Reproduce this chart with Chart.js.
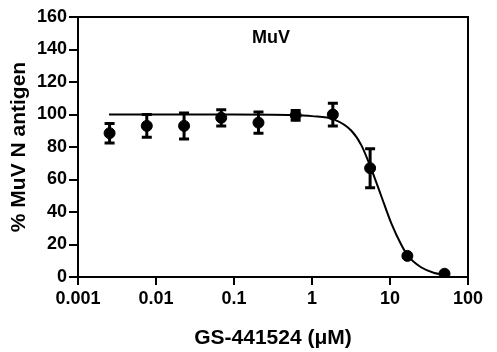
<!DOCTYPE html>
<html>
<head>
<meta charset="utf-8">
<script src="https://cdn.jsdelivr.net/npm/chart.js@4/dist/chart.umd.min.js"></script>
<style>
  html, body { margin: 0; padding: 0; background: #fff; }
  #wrap { width: 497px; height: 352px; }
</style>
</head>
<body>
<div id="wrap"><canvas id="c" width="497" height="352"></canvas></div>
<script>
// concentrations (uM), 3-fold dilutions
var conc = [0.00254, 0.00762, 0.0229, 0.0686, 0.206, 0.617, 1.85, 5.56, 16.7, 50];
var antigen = [88.5, 93, 93, 98, 95, 99.5, 100, 67, 13, 2];
var errs = [6, 7, 8, 5, 6.5, 3, 7, 12, 0, 0];

// fitted curve
var fitX = [0.0025, 0.01, 0.1, 0.5, 1, 1.9, 3.2, 4.3, 5.7, 7.7, 10.4, 13.9, 17, 25, 37, 50];
var fitY = [100, 100, 100, 99.7, 99, 97, 90, 81, 67, 50, 33, 20, 13, 6, 2.5, 1.5];

var xTicks = [0.001, 0.01, 0.1, 1, 10, 100];
var xTickLabels = ['0.001', '0.01', '0.1', '1', '10', '100'];

var FONT = 'Arial, "Liberation Sans", sans-serif';

var frame = {
  id: 'frame',
  afterDraw: function(chart) {
    var ctx = chart.ctx, a = chart.chartArea;
    ctx.save();
    ctx.strokeStyle = '#000';
    ctx.lineWidth = 2;
    ctx.beginPath();
    ctx.moveTo(a.left, a.top);
    ctx.lineTo(a.right, a.top);
    ctx.lineTo(a.right, a.bottom);
    ctx.stroke();
    ctx.fillStyle = '#000';
    ctx.font = 'bold 18px ' + FONT;
    ctx.textAlign = 'center';
    ctx.textBaseline = 'middle';
    ctx.fillText('MuV', a.left + (a.right - a.left) * 0.495, a.top + 21);
    ctx.restore();
  }
};

var errorBars = {
  id: 'errorBars',
  afterDatasetsDraw: function(chart) {
    var ctx = chart.ctx, xs = chart.scales.x, ys = chart.scales.y;
    ctx.save();
    ctx.strokeStyle = '#000';
    ctx.lineWidth = 3;
    for (var i = 0; i < conc.length; i++) {
      if (!errs[i]) continue;
      var px = xs.getPixelForValue(conc[i]);
      var hi = ys.getPixelForValue(antigen[i] + errs[i]);
      var lo = ys.getPixelForValue(antigen[i] - errs[i]);
      ctx.beginPath();
      ctx.moveTo(px, hi); ctx.lineTo(px, lo);
      ctx.moveTo(px - 5, hi); ctx.lineTo(px + 5, hi);
      ctx.moveTo(px - 5, lo); ctx.lineTo(px + 5, lo);
      ctx.stroke();
    }
    ctx.restore();
  }
};

new Chart(document.getElementById('c'), {
  type: 'scatter',
  data: {
    datasets: [{
      label: 'fit',
      type: 'line',
      data: fitX.map(function(x, i) { return {x: x, y: fitY[i]}; }),
      borderColor: '#000',
      borderWidth: 2,
      pointRadius: 0,
      fill: false,
      cubicInterpolationMode: 'monotone'
    }, {
      label: 'MuV',
      data: conc.map(function(x, i) { return {x: x, y: antigen[i]}; }),
      backgroundColor: '#000',
      borderColor: '#000',
      pointRadius: 5.5,
      pointHoverRadius: 5.5
    }]
  },
  plugins: [frame, errorBars],
  options: {
    responsive: false,
    animation: false,
    events: [],
    layout: { padding: { top: 17, right: 29, left: 0, bottom: 0 } },
    plugins: { legend: { display: false }, tooltip: { enabled: false } },
    scales: {
      x: {
        type: 'logarithmic',
        min: 0.001,
        max: 100,
        afterBuildTicks: function(scale) {
          scale.ticks = xTicks.map(function(v) { return {value: v}; });
        },
        afterFit: function(scale) { scale.height = 75; },
        border: { color: '#000', width: 2 },
        grid: { drawOnChartArea: false, color: '#000', lineWidth: 2, tickLength: 8 },
        ticks: {
          color: '#000',
          font: { family: FONT, size: 18, weight: 'bold' },
          padding: 3,
          maxRotation: 0,
          autoSkip: false,
          callback: function(v) {
            var i = xTicks.indexOf(v);
            return i >= 0 ? xTickLabels[i] : '';
          }
        },
        title: {
          display: true,
          text: 'GS-441524 (\u03bcM)',
          color: '#000',
          font: { family: FONT, size: 21, weight: 'bold' },
          padding: { top: 0, bottom: 1 }
        }
      },
      y: {
        min: 0,
        max: 160,
        afterFit: function(scale) { scale.width = 78; },
        border: { color: '#000', width: 2 },
        grid: { drawOnChartArea: false, color: '#000', lineWidth: 2, tickLength: 9 },
        ticks: {
          stepSize: 20,
          color: '#000',
          font: { family: FONT, size: 18, weight: 'bold' },
          padding: 2
        },
        title: {
          display: true,
          text: '% MuV N antigen',
          color: '#000',
          font: { family: FONT, size: 21, weight: 'bold' },
          padding: { top: 7, bottom: 0 }
        }
      }
    }
  }
});
</script>
</body>
</html>
